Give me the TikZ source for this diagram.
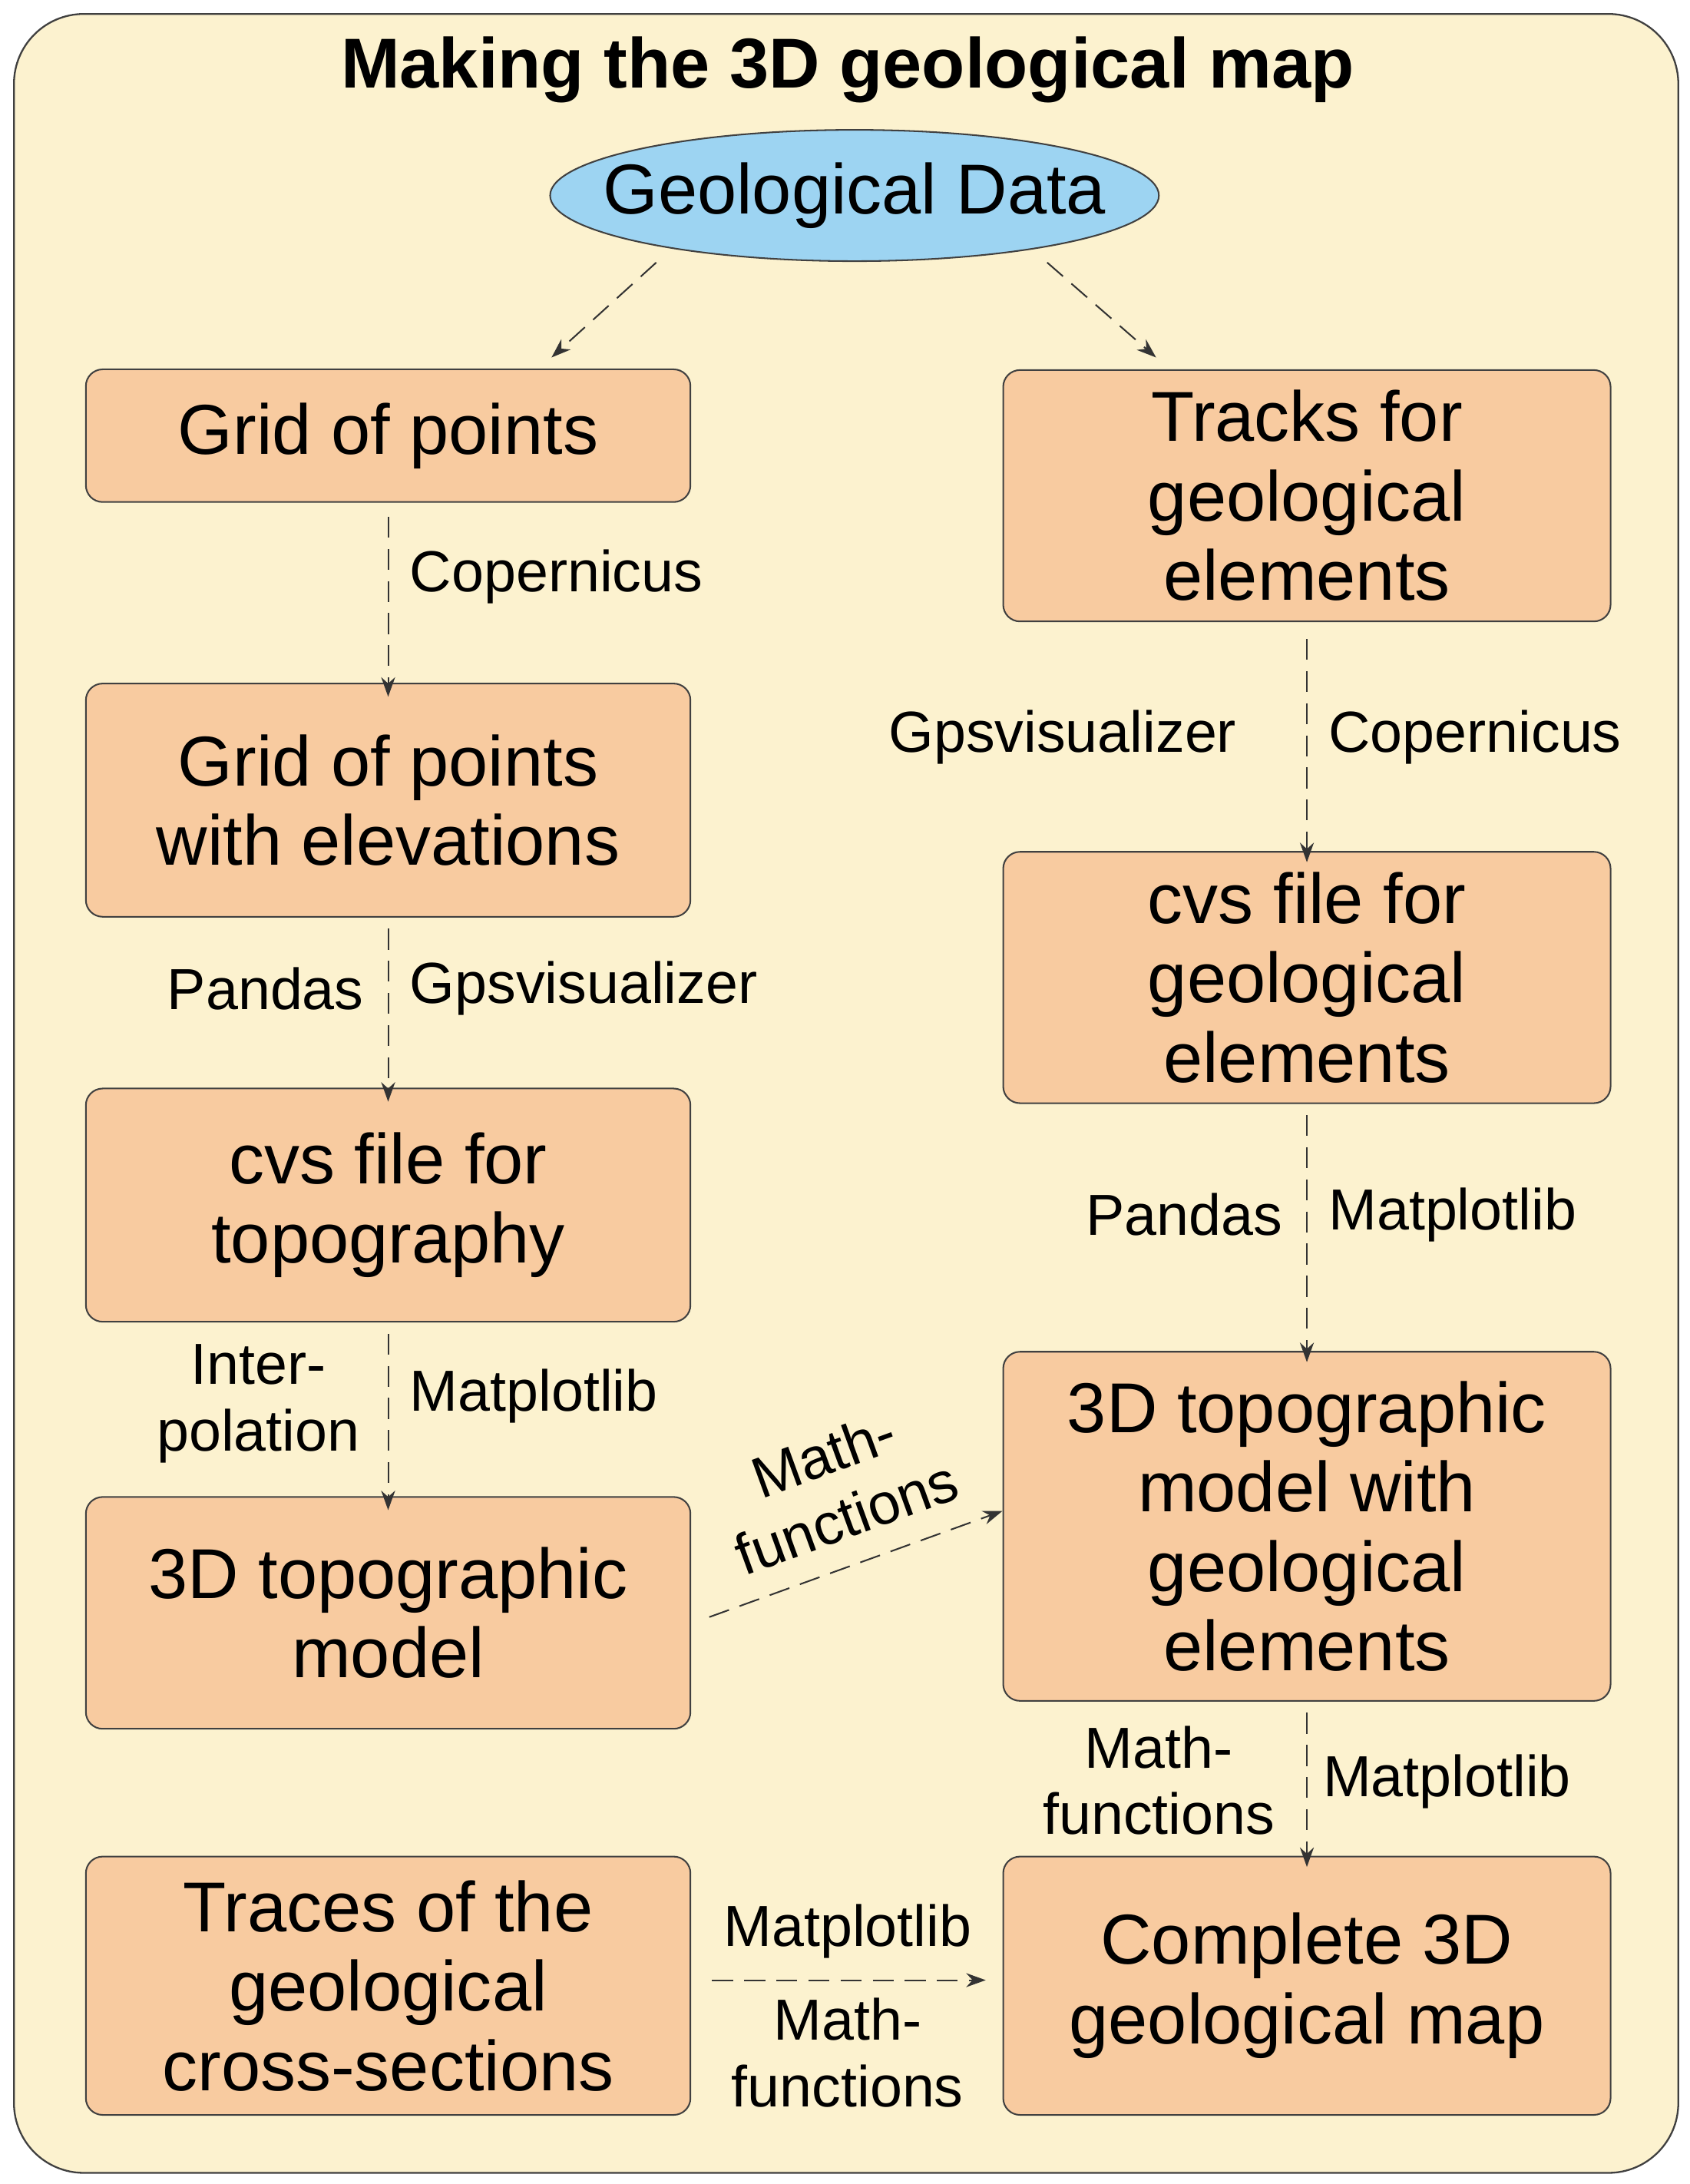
\documentclass[tikz,border=0pt]{standalone}
\usepackage{fontspec}
\setmainfont{Liberation Sans}
\usetikzlibrary{shapes.geometric,arrows.meta}
\begin{document}
\begin{tikzpicture}[x=0.05cm,y=-0.05cm,
  bx/.style={draw=black!75,line width=1.6pt,fill=boxc,rounded corners=0.6cm,align=center,inner sep=0pt,
    font=\fontsize{72}{81}\selectfont},
  lbl/.style={font=\fontsize{59}{68}\selectfont,align=center,inner sep=2pt},
  conn/.style={draw=black!80,line width=1.6pt,dash pattern=on 0.75cm off 0.4cm,-{Stealth[length=0.7cm,width=0.5cm]}}]
\definecolor{boxc}{HTML}{F8CBA0}
\definecolor{bgc}{HTML}{FCF2CF}
\definecolor{ellc}{HTML}{9DD4F2}
\useasboundingbox (0,0) rectangle (1210,1564);
\draw[draw=black!75,line width=1.8pt,fill=bgc,rounded corners=2.5cm] (10,10) rectangle (1202,1556);
\node[font=\fontsize{72}{80}\selectfont\bfseries] (title) at (607,50) {Making the 3D geological map};
\node[ellipse,draw=black!75,line width=1.6pt,fill=ellc,minimum width=436*0.05cm,minimum height=94*0.05cm,inner xsep=-2.6cm,inner ysep=0pt,font=\fontsize{72}{80}\selectfont] (gd) at (612,140) {Geological Data};
% left column
\node[bx,minimum width=433*0.05cm,minimum height=95*0.05cm] (b1) at (278,312) {Grid of points};
\node[bx,minimum width=433*0.05cm,minimum height=167*0.05cm] (b2) at (278,573) {Grid of points\\with elevations};
\node[bx,minimum width=433*0.05cm,minimum height=167*0.05cm] (b3) at (278,863) {cvs file for\\topography};
\node[bx,minimum width=433*0.05cm,minimum height=166*0.05cm] (b4) at (278,1155) {3D topographic\\model};
\node[bx,minimum width=433*0.05cm,minimum height=185*0.05cm] (b5) at (278,1422) {Traces of the\\geological\\cross-sections};
% right column
\node[bx,minimum width=435*0.05cm,minimum height=180*0.05cm] (r1) at (936,355) {Tracks for\\geological\\elements};
\node[bx,minimum width=435*0.05cm,minimum height=180*0.05cm] (r2) at (936,700) {cvs file for\\geological\\elements};
\node[bx,minimum width=435*0.05cm,minimum height=250*0.05cm] (r3) at (936,1093) {3D topographic\\model with\\geological\\elements};
\node[bx,minimum width=435*0.05cm,minimum height=185*0.05cm] (r4) at (936,1422) {Complete 3D\\geological map};
% connectors
\coordinate (g1) at (470,188); \coordinate (g2) at (750,188);
\draw[conn] (g1) -- (395,256);
\draw[conn] (g2) -- (828,256);
\draw[conn] (b1.south) ++(0,10) -- ([yshift=-0.5cm]b2.north);
\draw[conn] (b2.south) ++(0,8) -- ([yshift=-0.5cm]b3.north);
\draw[conn] (b3.south) ++(0,8) -- ([yshift=-0.5cm]b4.north);
\draw[conn] (r1.south) ++(0,12) -- ([yshift=-0.4cm]r2.north);
\draw[conn] (r2.south) ++(0,8) -- ([yshift=-0.4cm]r3.north);
\draw[conn] (r3.south) ++(0,8) -- ([yshift=-0.4cm]r4.north);
\draw[conn] (508,1158) -- (718,1082);
\draw[conn] (510,1418) -- (706,1418);
% labels
\node[lbl,anchor=west] (l1) at (292,413) {Copernicus};
\node[lbl,anchor=east] (l2) at (262,708) {Pandas};
\node[lbl,anchor=west] (l3) at (292,708) {Gpsvisualizer};
\node[lbl] (l4) at (185,1005) {Inter-\\polation};
\node[lbl,anchor=west] (l5) at (292,1000) {Matplotlib};
\node[lbl,anchor=east] (l6) at (887,528) {Gpsvisualizer};
\node[lbl,anchor=west] (l7) at (950,528) {Copernicus};
\node[lbl,anchor=east] (l8) at (920,870) {Pandas};
\node[lbl,anchor=west] (l9) at (950,870) {Matplotlib};
\node[lbl] (l10) at (830,1275) {Math-\\functions};
\node[lbl,anchor=west] (l11) at (946,1276) {Matplotlib};
\node[lbl,rotate=20] (l12) at (598,1064) {Math-\\functions};
\node[lbl] (l13) at (607,1383) {Matplotlib};
\node[lbl] (l14) at (607,1470) {Math-\\functions};
\end{tikzpicture}
\end{document}
